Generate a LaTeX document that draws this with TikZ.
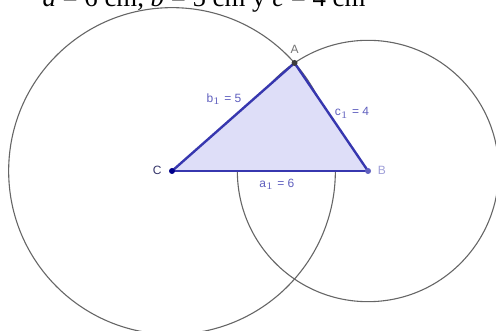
\documentclass[tikz,border=0pt]{standalone}
\usepackage{fontspec}
\setmainfont{Liberation Serif}
\setsansfont{Liberation Sans}
\usepackage{tikz}
\usetikzlibrary{positioning,calc}
\usepackage{xcolor}

\definecolor{edgeblue}{RGB}{55,55,175}
\definecolor{fillblue}{RGB}{222,222,248}
\definecolor{lblblue}{RGB}{95,95,190}
\definecolor{ptgray}{RGB}{60,60,60}

\begin{document}
\begin{tikzpicture}[x=16.335pt,y=16.335pt,
    circ/.style={draw=black!60,line width=0.55pt},
    side/.style={draw=edgeblue,line width=1.2pt,line join=round},
    lbl/.style={font=\sffamily\fontsize{6}{7}\selectfont,text=lblblue,inner sep=0pt},
    pt/.style={circle,inner sep=0pt,minimum size=3pt}]
\clip (-5.265,-4.897) rectangle (9.917,5.234);
% vertices of the triangle
\coordinate (C) at (0,0);
\coordinate (B) at (6,0);
\coordinate (A) at (3.75,3.307);
% circles of radius b and c
\draw[circ] (C) circle (5);
\draw[circ] (B) circle (4);
\fill[fillblue] (C) -- (B) -- (A) -- cycle;
\draw[side] (C) -- (B);
\draw[side] (B) -- (A);
\draw[side] (A) -- (C);
\node[pt,fill=ptgray] (pA) at (A) {};
\node[pt,fill=black!10!blue!60!black] (pC) at (C) {};
\node[pt,fill=lblblue] (pB) at (B) {};
% names and lengths
\node[lbl,text=black!55] (nA) at (3.75,3.72) {A};
\node[lbl,text=lblblue!60] (nB) at (6.42,0.02) {B};
\node[lbl,text=black!45!lblblue] (nC) at (-0.45,0.02) {C};
\node[lbl] (lb) at (1.59,2.20) {b$_1$ = 5};
\node[lbl] (lc) at (5.51,1.78) {c$_1$ = 4};
\node[lbl] (la) at (3.21,-0.40) {a$_1$ = 6};
% statement, cut at the top
\node[anchor=base,inner sep=0pt,font=\fontsize{13.4}{16}\selectfont] (title) at (0.98,5.02)
  {\textit{a} = 6 cm, \textit{b} = 5 cm y \textit{c} = 4 cm};
\end{tikzpicture}
\end{document}
